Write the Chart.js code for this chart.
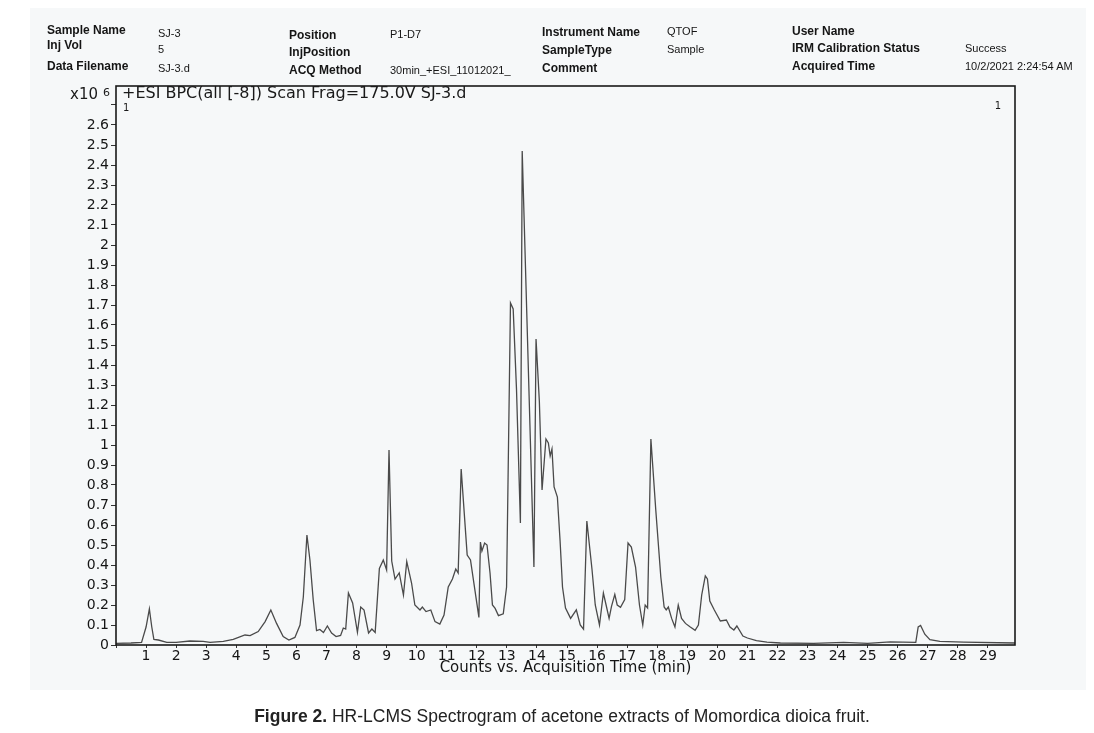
<!DOCTYPE html>
<html>
<head>
<meta charset="utf-8">
<script src="https://cdn.jsdelivr.net/npm/chart.js@4.4.1/dist/chart.umd.min.js"></script>
<style>
  body { margin: 0; background: #fff; }
  #page { position: relative; width: 1094px; height: 733px; overflow: hidden; }
  #scan { position: absolute; left: 30px; top: 8px; width: 1056px; height: 682px; background: #f6f8f9; }
  #myChart { position: absolute; left: 0; top: 0; }
  .h { position: absolute; font-family: "Liberation Sans", Arial, sans-serif; color: #151515; white-space: nowrap; line-height: 1; }
  .b { font-weight: bold; font-size: 12px; }
  .v { font-size: 11px; }
  #caption { position: absolute; left: 0; width: 1124px; top: 706px; text-align: center;
    font-family: "Liberation Sans", Arial, sans-serif; font-size: 17.5px; color: #222; }
</style>
</head>
<body>
<div id="page">
  <div id="scan"></div>
  <canvas id="myChart" width="1094" height="733"></canvas>

  <div class="h b" style="left:47px;top:24px">Sample Name</div>
  <div class="h v" style="left:158px;top:28px">SJ-3</div>
  <div class="h b" style="left:289px;top:29px">Position</div>
  <div class="h v" style="left:390px;top:29px">P1-D7</div>
  <div class="h b" style="left:542px;top:26px">Instrument Name</div>
  <div class="h v" style="left:667px;top:26px">QTOF</div>
  <div class="h b" style="left:792px;top:25px">User Name</div>

  <div class="h b" style="left:47px;top:39px">Inj Vol</div>
  <div class="h v" style="left:158px;top:44px">5</div>
  <div class="h b" style="left:289px;top:46px">InjPosition</div>
  <div class="h b" style="left:542px;top:44px">SampleType</div>
  <div class="h v" style="left:667px;top:44px">Sample</div>
  <div class="h b" style="left:792px;top:42px">IRM Calibration Status</div>
  <div class="h v" style="left:965px;top:43px">Success</div>

  <div class="h b" style="left:47px;top:60px">Data Filename</div>
  <div class="h v" style="left:158px;top:63px">SJ-3.d</div>
  <div class="h b" style="left:289px;top:64px">ACQ Method</div>
  <div class="h v" style="left:390px;top:65px">30min_+ESI_11012021_</div>
  <div class="h b" style="left:542px;top:62px">Comment</div>
  <div class="h b" style="left:792px;top:60px">Acquired Time</div>
  <div class="h v" style="left:965px;top:61px">10/2/2021 2:24:54 AM</div>

  <div id="caption"><b>Figure 2.</b> HR-LCMS Spectrogram of acetone extracts of Momordica dioica fruit.</div>
</div>

<script>
// acquisition time (min) and counts (x10^6)
const times = [0, 0.5, 0.85, 1.0, 1.11, 1.19, 1.26, 1.41, 1.69, 2.0, 2.46, 2.9, 3.13, 3.57, 3.9,
  4.29, 4.46, 4.73, 4.96, 5.15, 5.34, 5.56, 5.75, 5.95, 6.12, 6.23, 6.35, 6.45, 6.56, 6.67,
  6.78, 6.9, 7.03, 7.17, 7.32, 7.47, 7.56, 7.64, 7.73, 7.87, 8.03, 8.14, 8.25, 8.4, 8.51,
  8.62, 8.76, 8.89, 9.0, 9.08, 9.17, 9.28, 9.42, 9.56, 9.67, 9.83, 9.94, 10.11, 10.19, 10.31,
  10.47, 10.61, 10.77, 10.91, 11.05, 11.19, 11.3, 11.38, 11.48, 11.68, 11.79, 12.07, 12.12, 12.17, 12.26,
  12.34, 12.44, 12.52, 12.61, 12.72, 12.88, 12.99, 13.12, 13.21, 13.32, 13.45, 13.51, 13.75, 13.9, 13.97,
  14.08, 14.17, 14.3, 14.38, 14.44, 14.5, 14.57, 14.68, 14.77, 14.85, 14.95, 15.12, 15.31, 15.44, 15.55,
  15.66, 15.83, 15.94, 16.08, 16.21, 16.3, 16.4, 16.48, 16.59, 16.67, 16.78, 16.92, 17.03, 17.14, 17.28,
  17.41, 17.52, 17.6, 17.68, 17.79, 17.95, 18.12, 18.23, 18.3, 18.37, 18.48, 18.59, 18.7, 18.81, 18.94,
  19.1, 19.26, 19.37, 19.48, 19.6, 19.67, 19.75, 19.9, 20.1, 20.3, 20.42, 20.55, 20.65, 20.85, 21.0,
  21.3, 21.65, 22.1, 23.2, 24.2, 25.0, 25.75, 26.6, 26.68, 26.76, 26.9, 27.07, 27.4, 28.2, 29.9];

const counts = [0.008, 0.01, 0.013, 0.09, 0.18, 0.09, 0.028, 0.025, 0.013, 0.013, 0.02, 0.018, 0.013, 0.018, 0.028,
  0.05, 0.047, 0.067, 0.117, 0.175, 0.108, 0.042, 0.025, 0.038, 0.1, 0.24, 0.55, 0.425, 0.225, 0.072,
  0.078, 0.062, 0.095, 0.06, 0.042, 0.048, 0.085, 0.08, 0.26, 0.21, 0.063, 0.19, 0.175, 0.06, 0.08,
  0.063, 0.383, 0.425, 0.375, 0.975, 0.42, 0.33, 0.36, 0.25, 0.417, 0.31, 0.2, 0.175, 0.19, 0.167,
  0.175, 0.117, 0.105, 0.15, 0.29, 0.33, 0.38, 0.36, 0.88, 0.45, 0.425, 0.138, 0.515, 0.47, 0.51,
  0.5, 0.36, 0.2, 0.183, 0.147, 0.156, 0.29, 1.71, 1.68, 1.28, 0.61, 2.47, 1.19, 0.39, 1.53,
  1.22, 0.775, 1.03, 1.01, 0.945, 0.98, 0.79, 0.74, 0.52, 0.29, 0.185, 0.133, 0.176, 0.1, 0.079,
  0.62, 0.38, 0.2, 0.1, 0.26, 0.2, 0.133, 0.193, 0.253, 0.2, 0.188, 0.227, 0.51, 0.49, 0.39,
  0.2, 0.1, 0.2, 0.185, 1.03, 0.68, 0.34, 0.19, 0.176, 0.19, 0.133, 0.09, 0.2, 0.133, 0.108,
  0.09, 0.073, 0.1, 0.25, 0.345, 0.33, 0.22, 0.175, 0.12, 0.125, 0.09, 0.075, 0.095, 0.045, 0.035,
  0.022, 0.014, 0.01, 0.008, 0.013, 0.008, 0.016, 0.013, 0.09, 0.098, 0.054, 0.027, 0.018, 0.014, 0.01];

const xMin = 0, xMax = 29.9;
const yMin = 0, yMax = 2.795;
const plotTitle = '+ESI BPC(all [-8]) Scan Frag=175.0V SJ-3.d';
const xTitle = 'Counts vs. Acquisition Time (min)';

const points = times.map((t, i) => ({ x: t, y: counts[i] }));

const tickFont = { family: 'DejaVu Sans', size: 14 };

const frame = {
  id: 'frame',
  afterDatasetsDraw(chart) {
    const { ctx, chartArea: a } = chart;
    ctx.save();
    ctx.strokeStyle = '#1a1a1a';
    ctx.lineWidth = 1.6;
    ctx.strokeRect(a.left, a.top, a.right - a.left, a.bottom - a.top);
    ctx.fillStyle = '#1a1a1a';
    ctx.textBaseline = 'middle';
    ctx.font = '16px "DejaVu Sans"';
    ctx.textAlign = 'left';
    ctx.fillText(plotTitle, a.left + 6, a.top + 8);
    ctx.font = '15px "DejaVu Sans"';
    ctx.textAlign = 'right';
    ctx.fillText('x10', a.left - 18, a.top + 9);
    ctx.font = '11px "DejaVu Sans"';
    ctx.textAlign = 'left';
    ctx.fillText('6', a.left - 13, a.top + 7);
    ctx.font = '10px "DejaVu Sans"';
    ctx.fillText('1', a.left + 7, a.top + 22);
    ctx.textAlign = 'right';
    ctx.fillText('1', a.right - 14, a.top + 20);
    ctx.restore();
  }
};

const ctx = document.getElementById('myChart');

new Chart(ctx, {
  type: 'line',
  data: {
    datasets: [{
      data: points,
      borderColor: '#4a4a4a',
      borderWidth: 1.3,
      pointRadius: 0,
      tension: 0,
      fill: false
    }]
  },
  options: {
    responsive: false,
    animation: false,
    devicePixelRatio: 1,
    parsing: false,
    layout: { padding: { left: 0, top: 86, right: 79, bottom: 52 } },
    plugins: { legend: { display: false }, tooltip: { enabled: false } },
    scales: {
      x: {
        type: 'linear',
        min: xMin,
        max: xMax,
        afterFit(scale) { scale.height = 36; },
        grid: { drawOnChartArea: false, drawTicks: true, tickLength: 3, color: '#333' },
        border: { display: false },
        ticks: {
          stepSize: 1,
          includeBounds: false,
          autoSkip: false,
          maxRotation: 0,
          padding: 0,
          color: '#151515',
          font: tickFont,
          callback: v => (v >= 1 ? String(v) : '')
        },
        title: {
          display: true,
          text: xTitle,
          color: '#151515',
          font: { family: 'DejaVu Sans', size: 15 },
          padding: { top: 0, bottom: 4 }
        }
      },
      y: {
        min: yMin,
        max: yMax,
        afterFit(scale) { scale.width = 116; },
        grid: { drawOnChartArea: false, drawTicks: true, tickLength: 5, color: '#333' },
        border: { display: false },
        ticks: {
          stepSize: 0.1,
          includeBounds: false,
          autoSkip: false,
          padding: 2,
          color: '#151515',
          font: tickFont,
          callback: v => (v > 2.65 ? '' : String(Number(v.toFixed(1))))
        }
      }
    }
  },
  plugins: [frame]
});
</script>
</body>
</html>
